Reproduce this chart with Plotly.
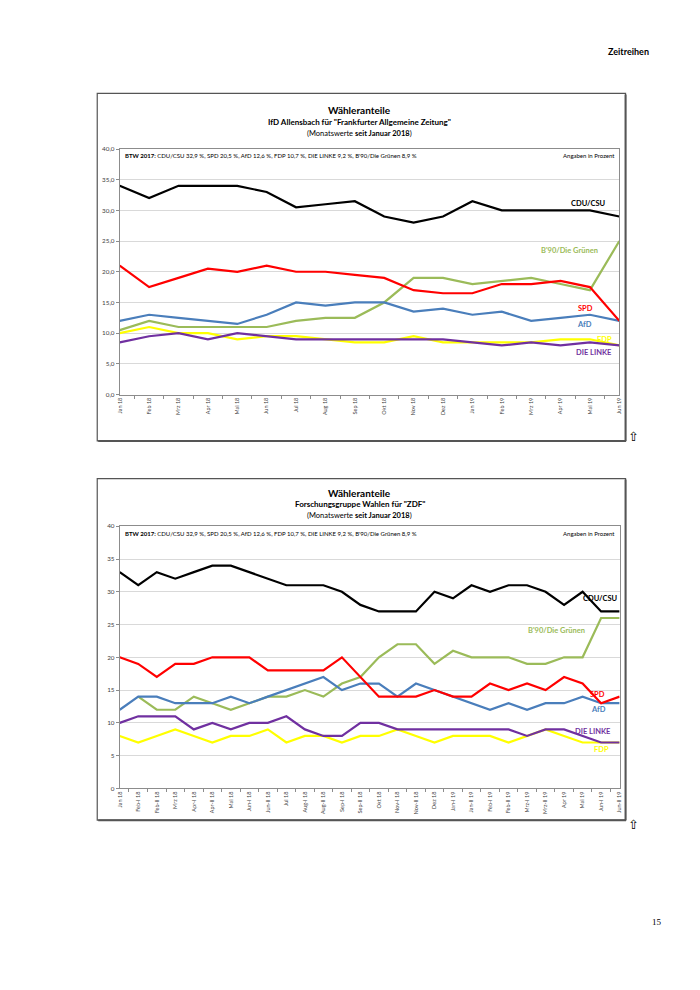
import plotly.graph_objects as go

# ---------------- data: chart 1 (IfD Allensbach) ----------------
months1 = ["Jan 18", "Feb 18", "Mrz 18", "Apr 18", "Mai 18", "Jun 18", "Jul 18", "Aug 18", "Sep 18",
           "Okt 18", "Nov 18", "Dez 18", "Jan 19", "Feb 19", "Mrz 19", "Apr 19", "Mai 19", "Jun 19"]
cdu1 = [34, 32, 34, 34, 34, 33, 30.5, 31, 31.5, 29, 28, 29, 31.5, 30, 30, 30, 30, 29]
spd1 = [21, 17.5, 19, 20.5, 20, 21, 20, 20, 19.5, 19, 17, 16.5, 16.5, 18, 18, 18.5, 17.5, 12]
afd1 = [12, 13, 12.5, 12, 11.5, 13, 15, 14.5, 15, 15, 13.5, 14, 13, 13.5, 12, 12.5, 13, 12]
gruene1 = [10.5, 12, 11, 11, 11, 11, 12, 12.5, 12.5, 15, 19, 19, 18, 18.5, 19, 18, 17, 25]
fdp1 = [10, 11, 10, 10, 9, 9.5, 9.5, 9, 8.5, 8.5, 9.5, 8.5, 8.5, 8.5, 8.5, 9, 9, 8]
linke1 = [8.5, 9.5, 10, 9, 10, 9.5, 9, 9, 9, 9, 9, 9, 8.5, 8, 8.5, 8, 8.5, 8]

# ---------------- data: chart 2 (Forschungsgruppe Wahlen) ----------------
months2 = ["Jan 18", "Feb-I 18", "Feb-II 18", "Mrz 18", "Apr-I 18", "Apr-II 18", "Mai 18", "Jun-I 18",
           "Jun-II 18", "Jul 18", "Aug-I 18", "Aug-II 18", "Sep-I 18", "Sep-II 18", "Okt 18", "Nov-I 18",
           "Nov-II 18", "Dez 18", "Jan-I 19", "Jan-II 19", "Feb-I 19", "Feb-II 19", "Mrz-I 19", "Mrz-II 19",
           "Apr 19", "Mai 19", "Jun-I 19", "Jun-II 19"]
cdu2 = [33, 31, 33, 32, 33, 34, 34, 33, 32, 31, 31, 31, 30, 28, 27, 27, 27, 30, 29, 31, 30, 31, 31, 30, 28, 30, 27, 27]
spd2 = [20, 19, 17, 19, 19, 20, 20, 20, 18, 18, 18, 18, 20, 17, 14, 14, 14, 15, 14, 14, 16, 15, 16, 15, 17, 16, 13, 14]
afd2 = [12, 14, 14, 13, 13, 13, 14, 13, 14, 15, 16, 17, 15, 16, 16, 14, 16, 15, 14, 13, 12, 13, 12, 13, 13, 14, 13, 13]
gruene2 = [None, 14, 12, 12, 14, 13, 12, 13, 14, 14, 15, 14, 16, 17, 20, 22, 22, 19, 21, 20, 20, 20, 19, 19, 20, 20, 26, 26]
fdp2 = [8, 7, 8, 9, 8, 7, 8, 8, 9, 7, 8, 8, 7, 8, 8, 9, 8, 7, 8, 8, 8, 7, 8, 9, 8, 7, 7, 7]
linke2 = [10, 11, 11, 11, 9, 10, 9, 10, 10, 11, 9, 8, 8, 10, 10, 9, 9, 9, 9, 9, 9, 9, 8, 9, 9, 8, 7, 7]

colors = {"CDU/CSU": "#000000", "SPD": "#FF0000", "AfD": "#4A7EBB", "B'90/Die Grünen": "#9BBB59",
          "FDP": "#FFFF00", "DIE LINKE": "#7030A0"}

# the page body has an 8px margin: figure placed at (8, 8)
OFF = 8
W, H = 684, 974
FONT = "Lato"


def px(x):
    return (x - OFF) / W


def py(y):
    return 1 - (y - OFF) / H


fig = go.Figure()

series1 = {"CDU/CSU": cdu1, "SPD": spd1, "AfD": afd1, "B'90/Die Grünen": gruene1, "FDP": fdp1, "DIE LINKE": linke1}
series2 = {"CDU/CSU": cdu2, "SPD": spd2, "AfD": afd2, "B'90/Die Grünen": gruene2, "FDP": fdp2, "DIE LINKE": linke2}
draw_order = ["B'90/Die Grünen", "FDP", "AfD", "SPD", "DIE LINKE", "CDU/CSU"]

for name in draw_order:
    fig.add_trace(go.Scatter(x=months1, y=series1[name], mode="lines", name=name,
                             line=dict(color=colors[name], width=2.2), xaxis="x", yaxis="y",
                             showlegend=False, connectgaps=False))
for name in draw_order:
    fig.add_trace(go.Scatter(x=months2, y=series2[name], mode="lines", name=name,
                             line=dict(color=colors[name], width=2.2), xaxis="x2", yaxis="y2",
                             showlegend=False, connectgaps=False))

axis_common = dict(showline=True, linecolor="#8c8c8c", linewidth=1, mirror=True,
                   ticks="outside", tickcolor="#8c8c8c", ticklen=3)
xfont = dict(family=FONT, size=5.5, color="#404040")
yfont = dict(family=FONT, size=6.3, color="#404040")

fig.update_layout(
    width=W, height=H, margin=dict(l=0, r=0, t=0, b=0),
    paper_bgcolor="white", plot_bgcolor="white",
    separators=",.",
    showlegend=False,
    xaxis=dict(domain=[px(117.7), px(621.7)], anchor="y", type="category", tickangle=-90,
               tickson="boundaries", showgrid=False, tickfont=xfont, **axis_common),
    yaxis=dict(domain=[py(393.3), py(146)], anchor="x", range=[0, 40], dtick=5, tickformat=".1f",
               showgrid=True, gridcolor="#d9d9d9", gridwidth=1, zeroline=False, tickfont=yfont, **axis_common),
    xaxis2=dict(domain=[px(117.7), px(622)], anchor="y2", type="category", tickangle=-90,
                tickson="boundaries", showgrid=False, tickfont=xfont, **axis_common),
    yaxis2=dict(domain=[py(790), py(526)], anchor="x2", range=[0, 40], dtick=5, tickformat="d",
                showgrid=True, gridcolor="#d9d9d9", gridwidth=1, zeroline=False, tickfont=yfont, **axis_common),
)

shapes = []
for (top, bot) in [(90, 440), (478, 822)]:
    shapes.append(dict(type="rect", xref="paper", yref="paper", x0=px(95), x1=px(628), y0=py(bot), y1=py(top),
                       line=dict(color="#555555", width=1.2), layer="below"))
    shapes.append(dict(type="line", xref="paper", yref="paper", x0=px(628), x1=px(628), y0=py(bot), y1=py(top + 1),
                       line=dict(color="#555555", width=2)))
    shapes.append(dict(type="line", xref="paper", yref="paper", x0=px(96), x1=px(628.5), y0=py(bot), y1=py(bot),
                       line=dict(color="#555555", width=2)))
fig.update_layout(shapes=shapes)

ann = []


def text(x, y, t, size, color="#000000", bold=False, xanchor="center", family=FONT):
    if bold:
        t = "<b>" + t + "</b>"
    ann.append(dict(x=px(x), y=py(y), xref="paper", yref="paper", text=t, showarrow=False,
                    xanchor=xanchor, yanchor="middle", font=dict(family=family, size=size, color=color)))


# page texts
text(631, 48, "Zeitreihen", 9, bold=True)
text(660, 925, "15", 9, family="Liberation Serif")
text(636, 436, "⇧", 13, family="DejaVu Sans")
text(636, 826, "⇧", 13, family="DejaVu Sans")

btw = "<b>BTW 2017:</b> CDU/CSU 32,9 %, SPD 20,5 %, AfD 12,6 %, FDP 10,7 %, DIE LINKE 9,2 %, B'90/Die Grünen 8,9 %"

# chart 1 titles
text(360, 107, "Wähleranteile", 10, bold=True)
text(360, 119, "IfD Allensbach für \"Frankfurter Allgemeine Zeitung\"", 8, bold=True)
text(360, 130, "(Monatswerte <b>seit Januar 2018</b>)", 7.5)
text(121, 153, btw, 6, xanchor="left")
text(619, 153, "Angaben in Prozent", 6, xanchor="right")

# chart 2 titles
text(360, 492, "Wähleranteile", 10, bold=True)
text(360, 504, "Forschungsgruppe Wahlen für \"ZDF\"", 8, bold=True)
text(360, 515, "(Monatswerte <b>seit Januar 2018</b>)", 7.5)
text(121, 533, btw, 6, xanchor="left")
text(619, 533, "Angaben in Prozent", 6, xanchor="right")

# series labels chart 1
labels1 = [("CDU/CSU", 591, 201), ("B'90/Die Grünen", 571.5, 248), ("SPD", 588, 306.5),
           ("AfD", 587, 323), ("FDP", 606.5, 337.5), ("DIE LINKE", 596, 351)]
for name, x, y in labels1:
    text(x, y, name, 7.5, color=colors[name], bold=True)

labels2 = [("CDU/CSU", 602.5, 599), ("B'90/Die Grünen", 558.5, 631), ("SPD", 600, 695.5),
           ("AfD", 600.5, 710.5), ("DIE LINKE", 595.5, 732.5), ("FDP", 604, 750.5)]
for name, x, y in labels2:
    text(x, y, name, 7.5, color=colors[name], bold=True)

fig.update_layout(annotations=ann)

fig.write_html("out.html")
